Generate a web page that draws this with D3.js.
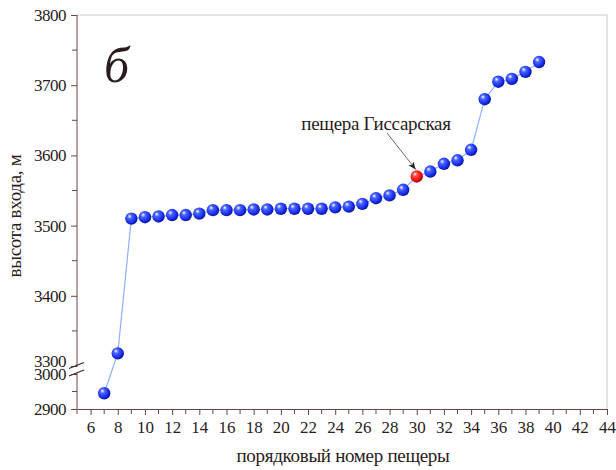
<!DOCTYPE html>
<html>
<head>
<meta charset="utf-8">
<script src="https://cdn.jsdelivr.net/npm/d3@7"></script>
<style>
  body { margin: 0; background: #fff; }
</style>
</head>
<body>
<div id="chart"></div>
<script>
// cave number and entrance height (m)
var caveNum = [7, 8, 9, 10, 11, 12, 13, 14, 15, 16, 17, 18, 19, 20, 21, 22, 23,
               24, 25, 26, 27, 28, 29, 30, 31, 32, 33, 34, 35, 36, 37, 38, 39];
var height = [2945, 3318, 3510, 3512, 3513, 3515, 3515, 3517, 3522, 3522, 3522, 3523, 3523, 3524, 3524, 3524, 3524,
              3526, 3527, 3531, 3539, 3543, 3551, 3570, 3577, 3588, 3593, 3608, 3680, 3705, 3709, 3719, 3733];
var highlightNum = 30;
var annotation = "пещера Гиссарская";
var lowerTicks = [2900, 3000];
var upperTicks = [3300, 3400, 3500, 3600, 3700, 3800];

var svgWidth = 616, svgHeight = 470;
var axisColor = "#6b4444";
var serif = "'Liberation Serif', 'Times New Roman', serif";

var svg = d3.select("#chart").append("svg")
    .attr("width", svgWidth)
    .attr("height", svgHeight);

var defs = svg.append("defs");
function ball(id, c1, c2, c3) {
    var g = defs.append("radialGradient").attr("id", id)
        .attr("cx", "40%").attr("cy", "40%").attr("r", "60%")
        .attr("fx", "35%").attr("fy", "30%");
    g.append("stop").attr("offset", "0%").attr("stop-color", "#ffffff");
    g.append("stop").attr("offset", "30%").attr("stop-color", c1);
    g.append("stop").attr("offset", "75%").attr("stop-color", c2);
    g.append("stop").attr("offset", "100%").attr("stop-color", c3);
}
ball("blueBall", "#4a66ff", "#1a2ef0", "#0a14a0");
ball("redBall", "#ff4a4a", "#f01010", "#a00000");

// x scale and broken y scale
var x = d3.scaleLinear().domain([5, 44]).range([77, 607]);
var y = d3.scaleLinear()
    .domain([2900, 3000, 3300, 3800])
    .range([409, 374, 366, 15]);
var yLow = d3.scaleLinear().domain([2900, 3000]).range([409, 374]);
var yUp = d3.scaleLinear().domain([3300, 3800]).range([366, 15]);

// frame lines (top and right)
svg.append("line").attr("x1", 77).attr("x2", 607).attr("y1", 15).attr("y2", 15)
    .attr("stroke", "#c8c8c8").attr("stroke-width", 1);
svg.append("line").attr("x1", 607).attr("x2", 607).attr("y1", 15).attr("y2", 409)
    .attr("stroke", "#c8c8c8").attr("stroke-width", 1);

// x axis
var xAxis = svg.append("g")
    .attr("transform", "translate(0,409)")
    .call(d3.axisBottom(x).tickValues(d3.range(6, 45, 2)).tickFormat(d3.format("d"))
        .tickSize(6).tickPadding(6).tickSizeOuter(0));
xAxis.select(".domain").attr("stroke", axisColor);
xAxis.selectAll(".tick line").attr("stroke", axisColor);
xAxis.selectAll("text").style("font-size", "17px");
svg.append("g")
    .attr("transform", "translate(0,409)")
    .selectAll("line").data(d3.range(5, 44, 2)).join("line")
    .attr("x1", d => x(d)).attr("x2", d => x(d))
    .attr("y1", 0).attr("y2", 5)
    .attr("stroke", axisColor);

// y axis, two segments
function yPart(scale, major, minor) {
    var g = svg.append("g").attr("transform", "translate(77,0)");
    g.call(d3.axisLeft(scale).tickValues(major).tickFormat(d3.format("d"))
        .tickSize(6).tickPadding(5).tickSizeOuter(0));
    g.select(".domain").remove();
    g.selectAll(".tick line").attr("stroke", axisColor);
    g.selectAll("text").style("font-size", "17px").style("letter-spacing", "-0.5px");
    g.selectAll(".minor").data(minor).join("line")
        .attr("class", "minor")
        .attr("x1", -5).attr("x2", 0)
        .attr("y1", d => scale(d)).attr("y2", d => scale(d))
        .attr("stroke", axisColor);
    return g;
}
yPart(yLow, lowerTicks, [2950]);
var yUpper = yPart(yUp, upperTicks, [3350, 3450, 3550, 3650, 3750]);
// the 3300 label sits just above the break, as in the source figure
yUpper.selectAll(".tick text").filter(d => d === 3300).attr("dy", "0.05em");

svg.append("line").attr("x1", 77).attr("x2", 77).attr("y1", 409).attr("y2", 373)
    .attr("stroke", axisColor);
svg.append("line").attr("x1", 77).attr("x2", 77).attr("y1", 367).attr("y2", 15)
    .attr("stroke", axisColor);
// break marks
[365.5, 373].forEach(function (b) {
    svg.append("line")
        .attr("x1", 69).attr("x2", 84)
        .attr("y1", b + 3).attr("y2", b - 3)
        .attr("stroke", "#3a2a2a").attr("stroke-width", 1.2);
});

// data line
var pts = caveNum.map((d, i) => [d, height[i]]);
svg.append("path")
    .datum(pts)
    .attr("fill", "none")
    .attr("stroke", "#8fb0ff")
    .attr("stroke-width", 1.2)
    .attr("d", d3.line().x(d => x(d[0])).y(d => y(d[1])));

// points
svg.selectAll(".pt").data(pts).join("circle")
    .attr("class", "pt")
    .attr("cx", d => x(d[0]))
    .attr("cy", d => y(d[1]))
    .attr("r", 6.2)
    .attr("fill", d => d[0] === highlightNum ? "url(#redBall)" : "url(#blueBall)");

// annotation
var hp = pts.find(d => d[0] === highlightNum);
defs.append("marker")
    .attr("id", "arrow").attr("viewBox", "0 0 10 10")
    .attr("refX", 10).attr("refY", 5)
    .attr("markerWidth", 8).attr("markerHeight", 8)
    .attr("markerUnits", "userSpaceOnUse")
    .attr("orient", "auto")
    .append("path").attr("d", "M0,1 L10,5 L0,9 L3,5 Z").attr("fill", "#222");
svg.append("line")
    .attr("x1", 387).attr("y1", 133)
    .attr("x2", x(hp[0]) - 1).attr("y2", y(hp[1]) - 7)
    .attr("stroke", "#444").attr("stroke-width", 0.8)
    .attr("marker-end", "url(#arrow)");
svg.append("text")
    .attr("x", 376).attr("y", 130)
    .attr("text-anchor", "middle")
    .style("font-size", "19px")
    .style("letter-spacing", "-0.3px")
    .text(annotation);

// panel letter
svg.append("text")
    .attr("x", 104).attr("y", 82)
    .style("font-size", "50px")
    .style("font-style", "italic")
    .text("б");

// axis titles
svg.append("text")
    .attr("transform", "translate(21,216) rotate(-90)")
    .attr("text-anchor", "middle")
    .style("font-size", "19px")
    .style("letter-spacing", "-0.3px")
    .text("высота входа, м");
svg.append("text")
    .attr("x", 343).attr("y", 462)
    .attr("text-anchor", "middle")
    .style("font-size", "19px")
    .style("letter-spacing", "-0.3px")
    .text("порядковый номер пещеры");

svg.selectAll("text")
    .style("font-family", serif)
    .attr("fill", "#2a1c1c");
</script>
</body>
</html>
